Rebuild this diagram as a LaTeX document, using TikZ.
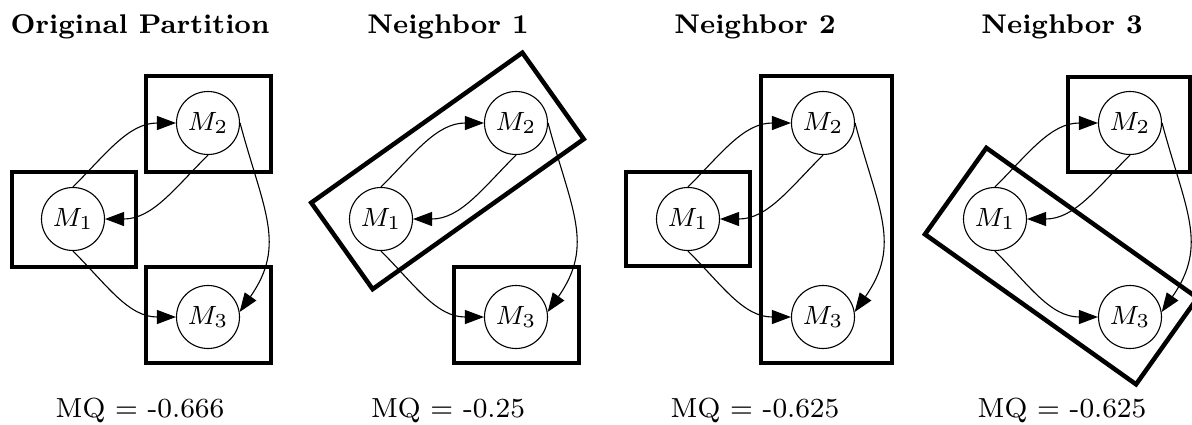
\RequirePackage{fix-cm}
\documentclass[tikz,border=0pt]{standalone}
\usepackage{fontspec}
\usepackage{graphicx}
\usetikzlibrary{arrows.meta}
% small design size, enlarged: gives the wide figure-style lettering
\newcommand\enlarge[2][3.3]{\scalebox{#1}{#2}}
\begin{document}
\begin{tikzpicture}[x=1pt,y=-1pt,
  module/.style={circle,draw,line width=1.1pt,minimum size=63pt,inner sep=0pt,
                 font=\fontsize{8}{9.5}\selectfont},
  dep/.style={line width=1.1pt,-{Triangle[length=19pt,width=14pt]}},
  cluster/.style={draw,line width=4.5pt},
  tiltbox/.style={cluster,minimum width=259pt,minimum height=106pt,inner sep=0pt},
  heading/.style={font=\fontsize{8}{9.5}\selectfont\bfseries,anchor=base,inner sep=0pt},
  score/.style={font=\fontsize{8}{9.5}\selectfont,anchor=base,inner sep=0pt}]

\useasboundingbox (0,0) rectangle (1192,424);
\clip (0,0) rectangle (1192,424);

% the same three-module dependency graph in every panel
\foreach \p/\dx in {1/0,2/308,3/615,4/922}{
  \begin{scope}[xshift=\dx pt]
    \node[module] (m1-\p) at (73,219) {\enlarge{$M_1$}};
    \node[module] (m2-\p) at (208,123) {\enlarge{$M_2$}};
    \node[module] (m3-\p) at (208,317) {\enlarge{$M_3$}};
    \draw[dep] (m1-\p.north) to[out=45,in=180] (m2-\p.west);
    \draw[dep] (m2-\p.south) to[out=-135,in=0] (m1-\p.east);
    \draw[dep] (m1-\p.south) to[out=-45,in=180] (m3-\p.west);
    \draw[dep] (m2-\p.east) .. controls +(-75:90pt) and +(55:82pt) .. (m3-\p.9);
  \end{scope}
}

% original partition
\node[heading] (t1) at (140,33.5) {\enlarge[3.38]{Original Partition}};
\draw[cluster] (12,172) rectangle (136,267);
\draw[cluster] (146,76) rectangle (271,172);
\draw[cluster] (146,267) rectangle (271,363);
\node[score] (s1) at (140,417) {\enlarge[3.45]{MQ = -0.666}};

% neighbor 1: M1 and M2 merged
\begin{scope}[xshift=308pt]
  \node[heading] (t2) at (140,33.5) {\enlarge[3.38]{Neighbor 1}};
  \node[tiltbox,rotate=35.4] (c2) at (139.5,170.9) {};
  \draw[cluster] (146,267) rectangle (271,363);
  \node[score] (s2) at (140,417) {\enlarge[3.45]{MQ = -0.25}};
\end{scope}

% neighbor 2: M2 and M3 merged
\begin{scope}[xshift=615pt]
  \node[heading] (t3) at (140,33.5) {\enlarge[3.38]{Neighbor 2}};
  \draw[cluster] (11,172) rectangle (135,266);
  \draw[cluster] (146,76) rectangle (277,363);
  \node[score] (s3) at (140,417) {\enlarge[3.45]{MQ = -0.625}};
\end{scope}

% neighbor 3: M1 and M3 merged
\begin{scope}[xshift=922pt]
  \node[heading] (t4) at (140,33.5) {\enlarge[3.38]{Neighbor 3}};
  \node[tiltbox,rotate=-35.4] (c4) at (139.2,266.1) {};
  \draw[cluster] (146,77) rectangle (268,172);
  \node[score] (s4) at (140,417) {\enlarge[3.45]{MQ = -0.625}};
\end{scope}
\end{tikzpicture}
\end{document}
